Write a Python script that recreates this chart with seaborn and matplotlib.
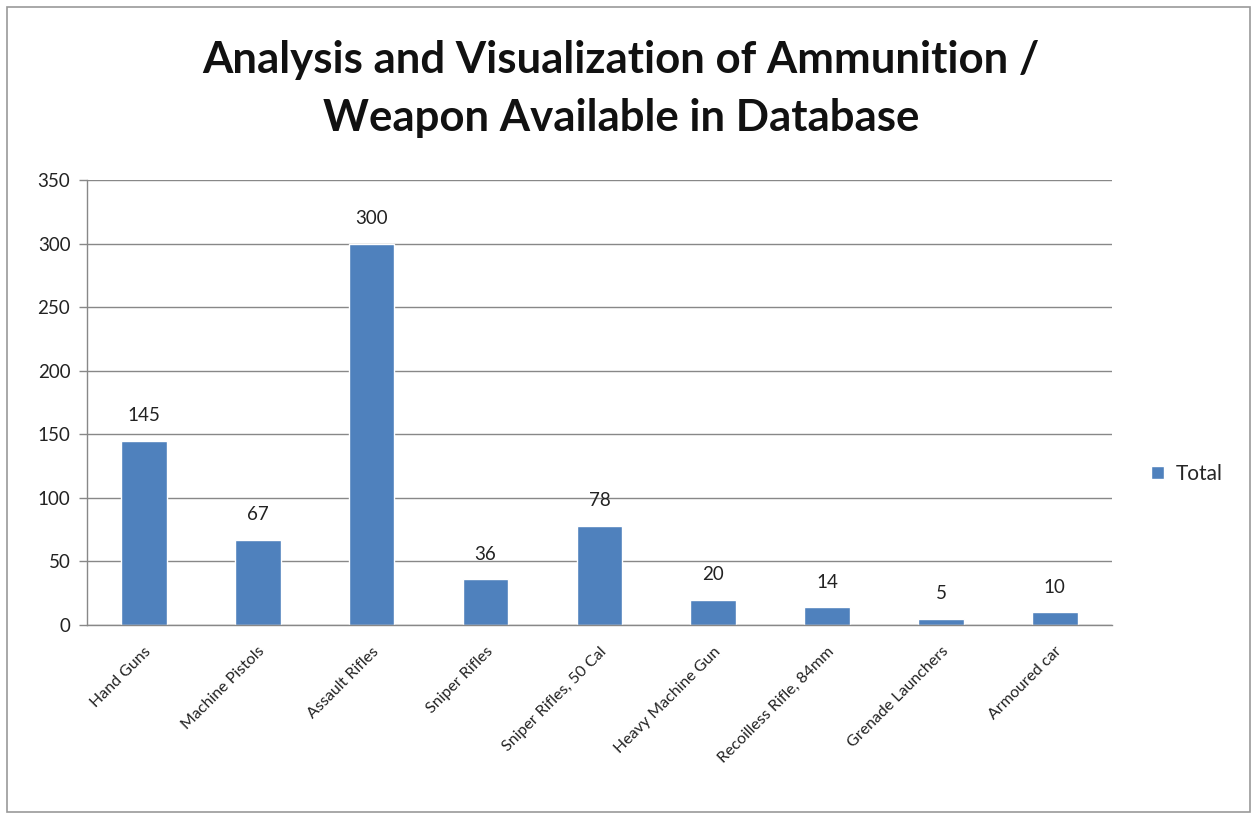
import matplotlib
matplotlib.use('Agg')
import matplotlib.pyplot as plt
import seaborn as sns
import pandas as pd
from matplotlib.patches import Rectangle

# Data
categories = ['Hand Guns', 'Machine Pistols', 'Assault Rifles', 'Sniper Rifles',
              'Sniper Rifles, 50 Cal', 'Heavy Machine Gun', 'Recoilless Rifle, 84mm',
              'Grenade Launchers', 'Armoured car']
totals = [145, 67, 300, 36, 78, 20, 14, 5, 10]
y_ticks = [0, 50, 100, 150, 200, 250, 300, 350]

df = pd.DataFrame({'weapon': categories, 'total': totals})

sns.set_style('white')
plt.rcParams['font.family'] = ['Lato', 'DejaVu Sans']

fig = plt.figure(figsize=(12.52, 8.14), dpi=100)
ax = fig.add_axes([0.0695, 0.2322, 0.8185, 0.5467])

bar_color = '#4F81BD'
sns.barplot(data=df, x='weapon', y='total', color=bar_color, width=0.4,
            saturation=1, ax=ax, label='Total')

ax.set_ylim(0, 350)
ax.set_xlim(-0.5, len(categories) - 0.5)
ax.set_yticks(y_ticks)
ax.set_yticklabels([str(t) for t in y_ticks], fontsize=13.5, color='#222222')
ax.yaxis.grid(True, color='#888888', linewidth=1)
ax.set_axisbelow(True)
ax.set_xlabel('')
ax.set_ylabel('')

# data labels
for i, v in enumerate(totals):
    ax.text(i, v + 13, str(v), ha='center', va='bottom', fontsize=13.5, color='#222222')

# category tick labels, tick marks at category boundaries
ax.set_xticks(range(len(categories)))
ax.set_xticklabels(categories, rotation=45, ha='right', rotation_mode='anchor',
                   fontsize=11.5, color='#222222')
ax.tick_params(axis='x', length=0, pad=14)
ax.set_xticks([i - 0.5 for i in range(len(categories) + 1)], minor=True)
ax.tick_params(axis='x', which='minor', length=6, color='#888888', width=1)
ax.tick_params(axis='y', length=6, color='#888888', width=1, left=True, pad=6)

for side in ['top', 'right']:
    ax.spines[side].set_visible(False)
for side in ['left', 'bottom']:
    ax.spines[side].set_color('#888888')
    ax.spines[side].set_linewidth(1)

leg = ax.legend(loc='center left', bbox_to_anchor=(1.02, 0.34), frameon=False,
                fontsize=15, handlelength=0.6, handleheight=0.6, handletextpad=0.6)

fig.text(0.496, 0.891, 'Analysis and Visualization of Ammunition /\nWeapon Available in Database',
         ha='center', va='center', fontsize=31.5, fontweight='bold', linespacing=1.55,
         color='#111111')

# chart border
fig.patches.append(Rectangle((7 / 1252, 2 / 814), 1243 / 1252, 805 / 814,
                             transform=fig.transFigure, fill=False,
                             edgecolor='#999999', linewidth=1.2))

fig.savefig('out.png', dpi=100)
